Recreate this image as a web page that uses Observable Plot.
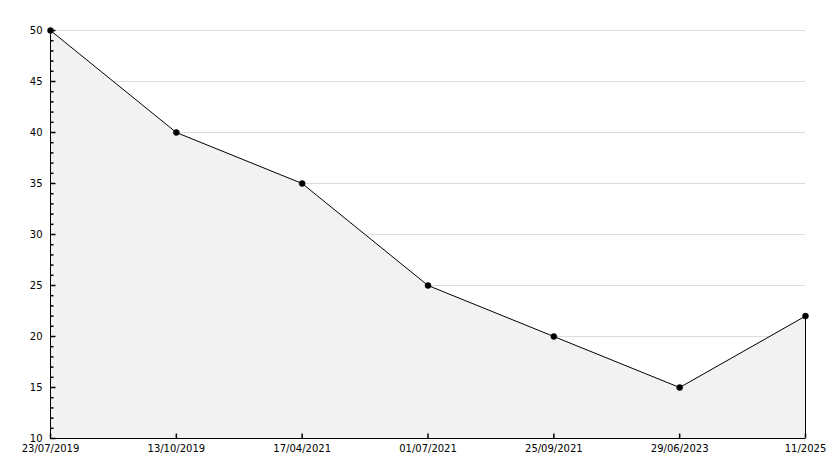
<!DOCTYPE html>
<html>
<head>
<meta charset="utf-8">
<script src="https://cdn.jsdelivr.net/npm/d3@7"></script>
<script src="https://cdn.jsdelivr.net/npm/@observablehq/plot@0.6"></script>
<style>
  html, body { margin: 0; padding: 0; background: #fff; }
  #chart svg { display: block; }
</style>
</head>
<body>
<div id="chart"></div>
<script>
const labels = ["23/07/2019", "13/10/2019", "17/04/2021", "01/07/2021", "25/09/2021", "29/06/2023", "11/2025"];
const values = [50, 40, 35, 25, 20, 15, 22];
const yDomain = [10, 50];
const majorTicks = [10, 15, 20, 25, 30, 35, 40, 45, 50];
const minorTicks = d3.range(10, 51).filter(v => v % 5 !== 0);

const data = labels.map((label, i) => ({label, value: values[i]}));
const first = labels[0];
const last = data[data.length - 1];

// pixel-sized tick symbols
const tickRight = len => ({draw(ctx) { ctx.moveTo(0, 0); ctx.lineTo(len, 0); }});
const tickUp = len => ({draw(ctx) { ctx.moveTo(0, 0); ctx.lineTo(0, -len); }});

const chart = Plot.plot({
  width: 834,
  height: 468,
  marginLeft: 50,
  marginRight: 29,
  marginTop: 30,
  marginBottom: 30,
  style: {fontFamily: "DejaVu Sans, sans-serif", fontSize: "10px", color: "#000", background: "#fff"},
  x: {type: "point", domain: labels, padding: 0, round: false, label: null},
  y: {domain: yDomain, label: null},
  marks: [
    Plot.gridY(majorTicks, {stroke: "#dcdcdc", strokeOpacity: 1}),
    Plot.areaY(data, {x: "label", y1: yDomain[0], y2: "value", fill: "#f2f2f2"}),
    Plot.ruleX([last], {x: "label", y1: yDomain[0], y2: "value", stroke: "#000"}),
    Plot.lineY(data, {x: "label", y: "value", stroke: "#000", strokeWidth: 1}),
    Plot.dot(data, {x: "label", y: "value", r: 3, fill: "#000", stroke: "#000", strokeWidth: 0.5}),
    // axes lines
    Plot.ruleX([first], {y1: yDomain[0], y2: yDomain[1], stroke: "#000"}),
    Plot.ruleY([yDomain[0]], {stroke: "#000"}),
    // y ticks (inward)
    Plot.dot(majorTicks, {x: () => first, y: d => d, symbol: tickRight(5), stroke: "#000", fill: "none", r: 3}),
    Plot.dot(minorTicks, {x: () => first, y: d => d, symbol: tickRight(3), stroke: "#000", fill: "none", r: 3}),
    // x ticks (inward)
    Plot.dot(labels, {x: d => d, y: () => yDomain[0], symbol: tickUp(5), stroke: "#000", fill: "none", r: 3}),
    Plot.axisY(majorTicks, {tickSize: 0, tickPadding: 8, fontSize: 10}),
    Plot.axisX(labels, {tickSize: 0, tickPadding: 6, fontSize: 10})
  ]
});
document.getElementById("chart").appendChild(chart);
</script>
</body>
</html>
